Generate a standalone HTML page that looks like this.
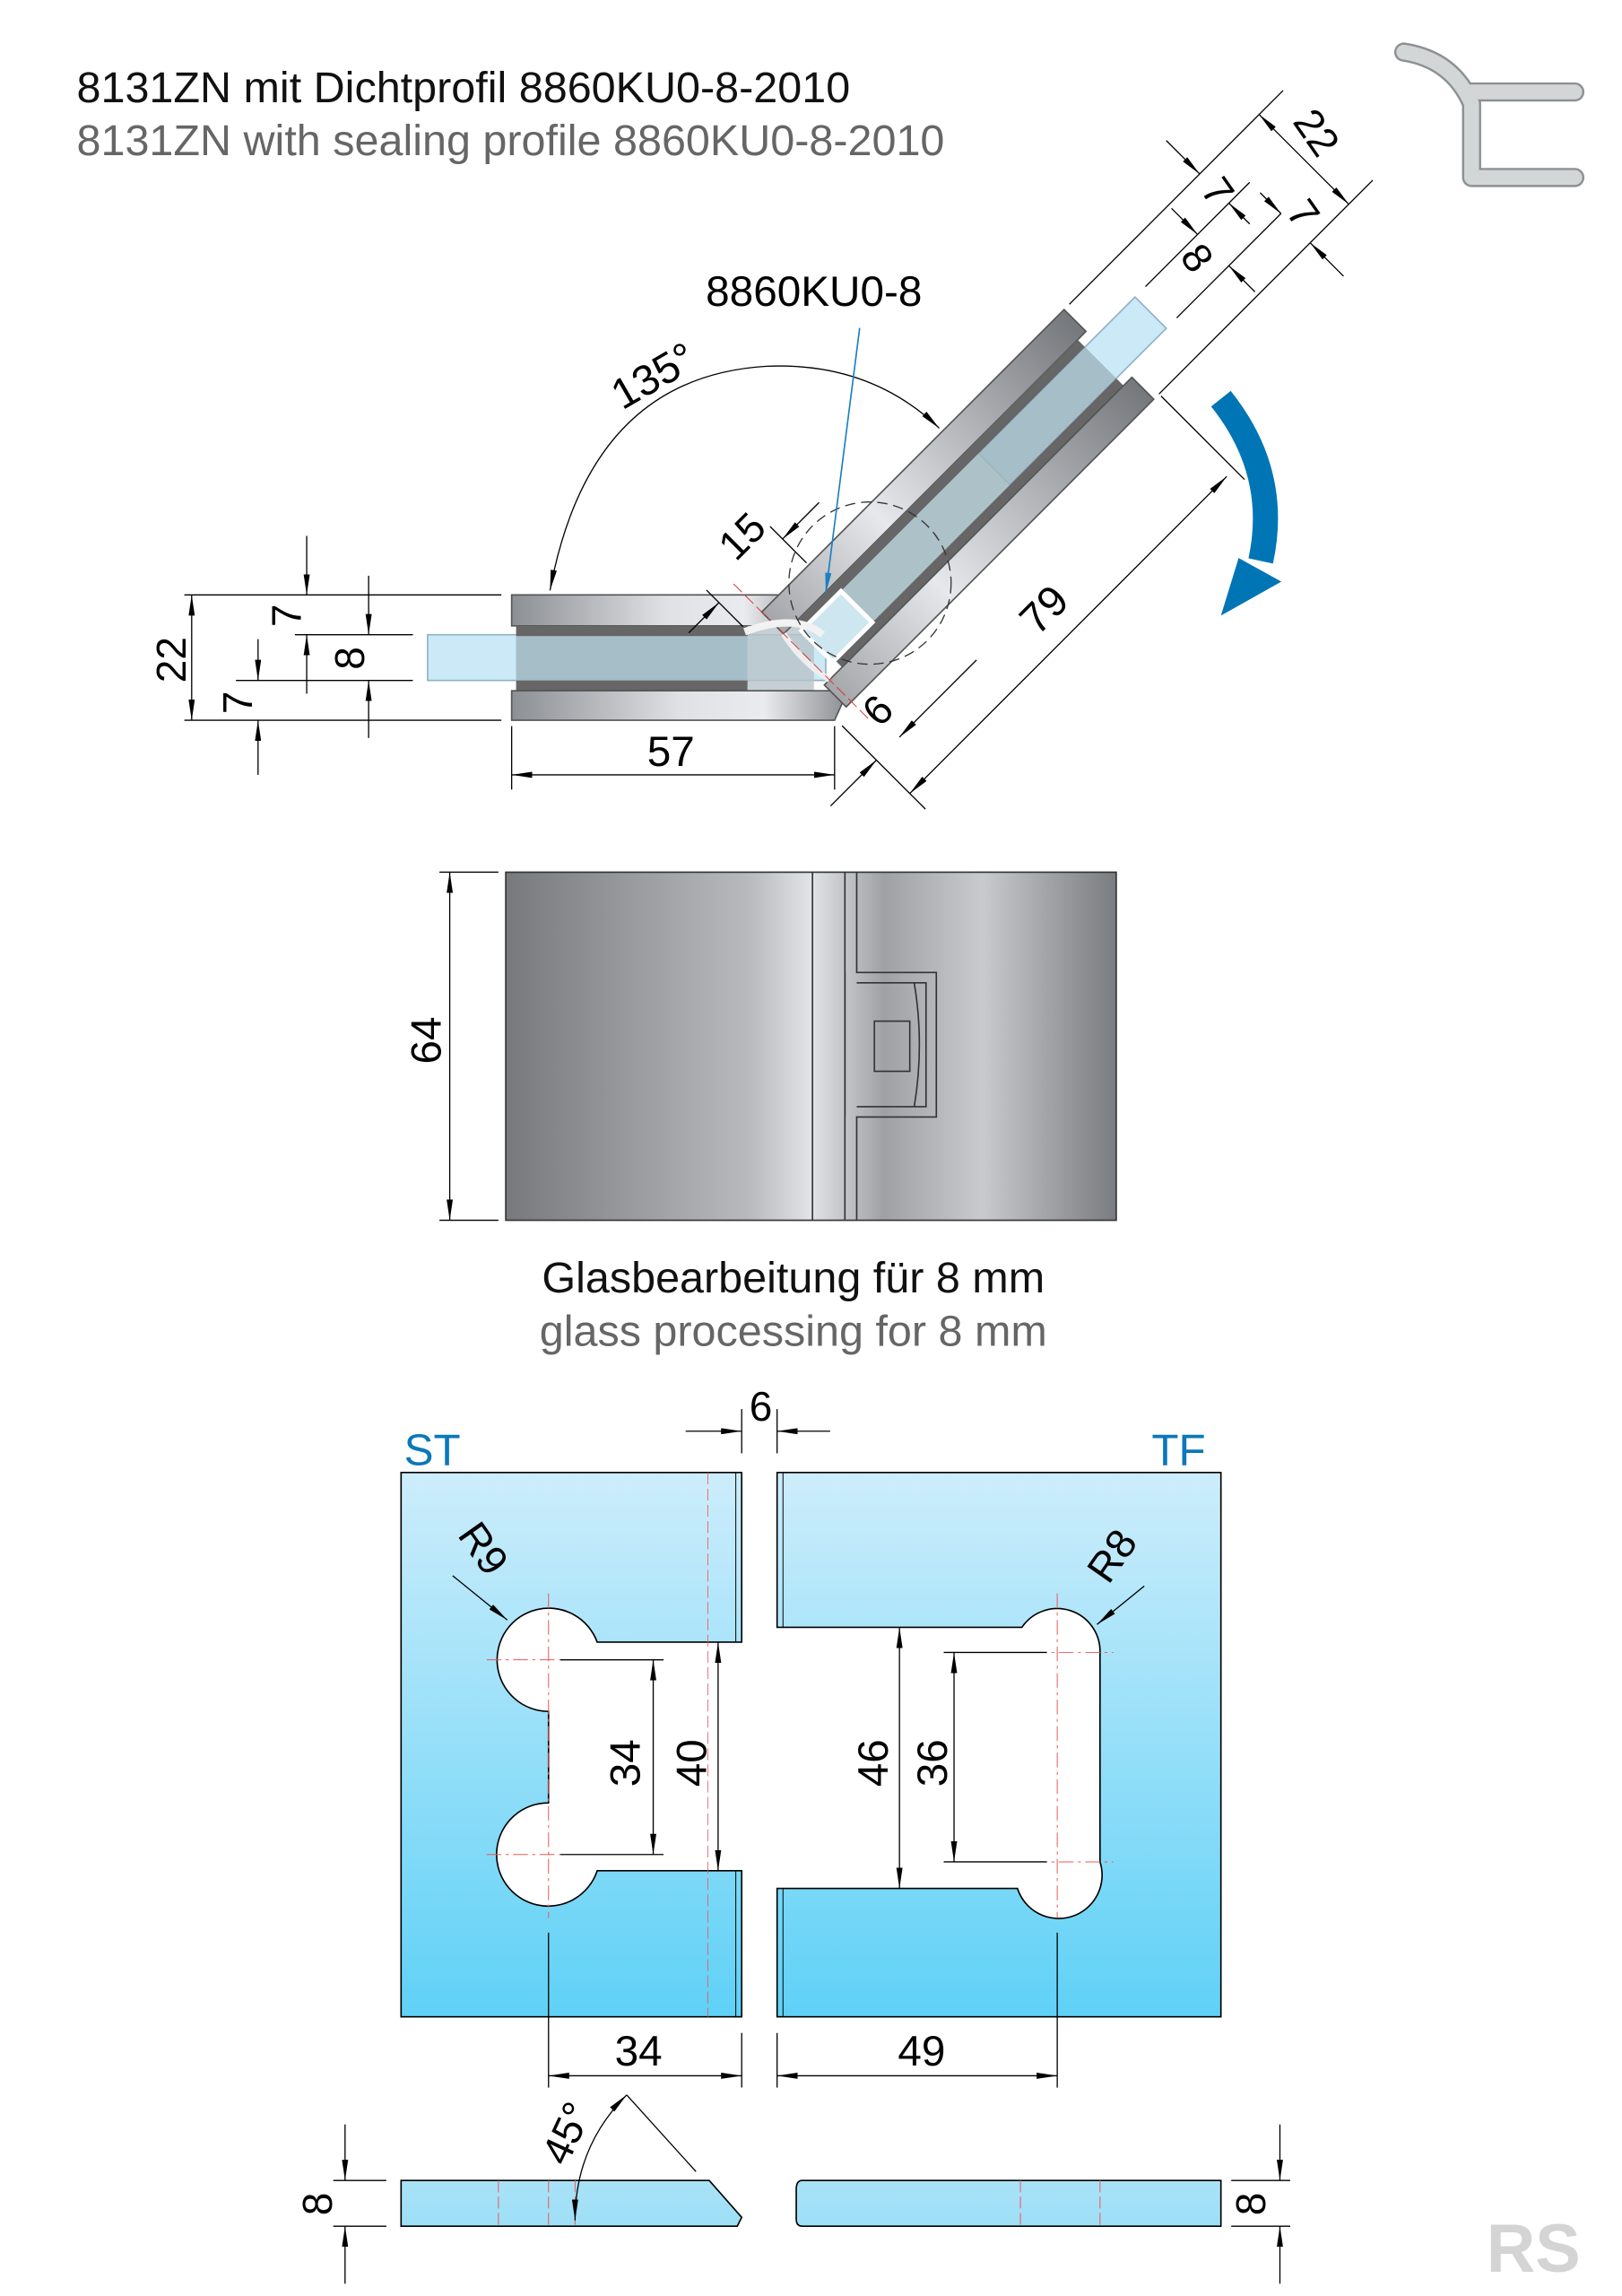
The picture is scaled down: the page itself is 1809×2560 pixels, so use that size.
<!DOCTYPE html>
<html><head><meta charset="utf-8"><style>
html,body{margin:0;padding:0;background:#fff;}
svg{display:block;}
text{font-family:"Liberation Sans",Arial,sans-serif;}
</style></head><body>
<svg width="1809" height="2560" viewBox="0 0 1100 1556" xmlns="http://www.w3.org/2000/svg">
<defs>
<marker id="a" viewBox="0 0 20 6" refX="20" refY="3" markerWidth="14" markerHeight="4.2" markerUnits="userSpaceOnUse" orient="auto-start-reverse"><path d="M0,0 L20,3 L0,6 z" fill="#000"/></marker>
<marker id="ab" viewBox="0 0 20 6" refX="20" refY="3" markerWidth="14" markerHeight="4.2" markerUnits="userSpaceOnUse" orient="auto"><path d="M0,0 L20,3 L0,6 z" fill="#1a7fc0"/></marker>
<linearGradient id="met" x1="0" y1="0" x2="1" y2="0">
<stop offset="0" stop-color="#8c8f93"/><stop offset="0.5" stop-color="#dfe1e5"/><stop offset="0.75" stop-color="#e9ebef"/><stop offset="1" stop-color="#8a8d91"/></linearGradient>
<linearGradient id="met2" x1="0" y1="0" x2="1" y2="0">
<stop offset="0" stop-color="#77797c"/><stop offset="0.4" stop-color="#b8babe"/><stop offset="0.5" stop-color="#e1e3e7"/><stop offset="0.62" stop-color="#9fa1a5"/><stop offset="0.78" stop-color="#c8cacd"/><stop offset="1" stop-color="#797c80"/></linearGradient>
<linearGradient id="met3" x1="0" y1="0" x2="1" y2="0">
<stop offset="0" stop-color="#a4a6aa"/><stop offset="0.35" stop-color="#e6e8ec"/><stop offset="1" stop-color="#74777b"/></linearGradient>
<linearGradient id="blu" x1="0" y1="0" x2="0" y2="1">
<stop offset="0" stop-color="#cdedfb"/><stop offset="1" stop-color="#5fd1f6"/></linearGradient>
<linearGradient id="blu2" x1="0" y1="0" x2="0" y2="1">
<stop offset="0" stop-color="#a9e2f7"/><stop offset="1" stop-color="#9edff7"/></linearGradient>
</defs>

<text x="52" y="69" font-size="29.5" fill="#111">8131ZN mit Dichtprofil 8860KU0-8-2010</text>
<text x="52" y="105" font-size="29.5" fill="#666">8131ZN with sealing profile 8860KU0-8-2010</text>

<g fill="none" stroke-linecap="round" stroke-linejoin="round">
<path d="M952,35 Q985,40 998,70 L998,120 L1068,120 M998,62 L1068,62" stroke="#8d9194" stroke-width="13"/>
<path d="M952,35 Q985,40 998,70 L998,120 L1068,120 M998,62 L1068,62" stroke="#d2d6d6" stroke-width="10"/>
</g>

<rect x="290" y="430" width="270" height="31" fill="#cbe9f6" stroke="#8fb3c4" stroke-width="1"/>
<rect x="347" y="403" width="210" height="21" fill="url(#met)" stroke="#555" stroke-width="1"/>
<rect x="350" y="424" width="157" height="7" fill="#666"/>
<rect x="350" y="461" width="157" height="7" fill="#666"/>
<rect x="350" y="431" width="157" height="30" fill="#9fb6c0" opacity="0.85"/>
<rect x="507" y="424" width="45" height="44" fill="#b8c3c8" opacity="0.8"/>
<path d="M347,468 L552,468 L575,468 L566,488 L347,488 Z" fill="url(#met)" stroke="#555" stroke-width="1"/>

<g transform="translate(547,445) rotate(-45)">
<rect x="180" y="-15" width="150" height="30" fill="#cbe9f6" stroke="#8fb3c4" stroke-width="1"/>
<rect x="0" y="-43" width="290" height="21" fill="url(#met3)" stroke="#555" stroke-width="1"/>
<rect x="12" y="-22" width="270" height="7" fill="#666"/>
<rect x="12" y="15" width="270" height="7" fill="#666"/>
<rect x="12" y="-15" width="270" height="30" fill="#9fb6c0" opacity="0.85"/>
<rect x="-5" y="22" width="295" height="21" fill="url(#met3)" stroke="#555" stroke-width="1"/>
<rect x="10" y="-15" width="38" height="30" fill="#cde6f0" stroke="#fff" stroke-width="3"/>
<path d="M0,-22 Q-5,0 0,22" fill="none" stroke="#eee" stroke-width="4"/>
<line x1="0" y1="-70" x2="0" y2="60" stroke="#d33" stroke-width="0.6" stroke-dasharray="8,3"/>
</g>
<path d="M505,428 Q540,415 558,430" fill="none" stroke="#f2f2f2" stroke-width="5"/>
<circle cx="590" cy="395" r="55" fill="none" stroke="#333" stroke-width="0.8" stroke-dasharray="7,4"/>

<g stroke="#000" stroke-width="0.8" fill="none">
<line x1="125" y1="403" x2="340" y2="403"/>
<line x1="125" y1="488" x2="340" y2="488"/>
<line x1="200" y1="430" x2="280" y2="430"/>
<line x1="160" y1="461" x2="280" y2="461"/>
<line x1="130" y1="403" x2="130" y2="488" marker-start="url(#a)" marker-end="url(#a)"/>
<line x1="208" y1="363" x2="208" y2="403" marker-end="url(#a)"/>
<line x1="208" y1="470" x2="208" y2="430" marker-end="url(#a)"/>
<line x1="250" y1="390" x2="250" y2="430" marker-end="url(#a)"/>
<line x1="250" y1="500" x2="250" y2="461" marker-end="url(#a)"/>
<line x1="175" y1="433" x2="175" y2="461" marker-end="url(#a)"/>
<line x1="175" y1="525" x2="175" y2="488" marker-end="url(#a)"/>
<line x1="347" y1="492" x2="347" y2="535"/>
<line x1="566" y1="492" x2="566" y2="535"/>
<line x1="347" y1="525" x2="566" y2="525" marker-start="url(#a)" marker-end="url(#a)"/>
</g>
<text transform="translate(126,447) rotate(-90)" font-size="28" text-anchor="middle">22</text>
<text transform="translate(204,417) rotate(-90)" font-size="28" text-anchor="middle">7</text>
<text transform="translate(247,446) rotate(-90)" font-size="28" text-anchor="middle">8</text>
<text transform="translate(171,476) rotate(-90)" font-size="28" text-anchor="middle">7</text>
<text x="455" y="519" font-size="29" text-anchor="middle">57</text>

<g transform="translate(547,445) rotate(-45)" stroke="#000" stroke-width="0.8" fill="none">
<line x1="295" y1="-43" x2="500" y2="-43"/>
<line x1="295" y1="43" x2="500" y2="43"/>
<line x1="340" y1="-15" x2="440" y2="-15"/>
<line x1="340" y1="15" x2="440" y2="15"/>
<line x1="477" y1="-43" x2="477" y2="43" marker-start="url(#a)" marker-end="url(#a)"/>
<line x1="420" y1="-75" x2="420" y2="-43" marker-end="url(#a)"/>
<line x1="420" y1="5" x2="420" y2="-15" marker-end="url(#a)"/>
<line x1="390" y1="-40" x2="390" y2="-15" marker-end="url(#a)"/>
<line x1="390" y1="40" x2="390" y2="15" marker-end="url(#a)"/>
<line x1="440" y1="-5" x2="440" y2="15" marker-end="url(#a)"/>
<line x1="440" y1="75" x2="440" y2="43" marker-end="url(#a)"/>
<line x1="295" y1="45" x2="295" y2="125"/>
<line x1="-16" y1="50" x2="-16" y2="130"/>
<line x1="-16" y1="115" x2="288" y2="115" marker-start="url(#a)" marker-end="url(#a)"/>
<line x1="-60" y1="83" x2="-16" y2="83" marker-end="url(#a)"/>
<line x1="80" y1="83" x2="6" y2="83" marker-end="url(#a)"/>
<line x1="-16" y1="-45" x2="-16" y2="-80"/>
<line x1="45" y1="-45" x2="45" y2="-80"/>
<line x1="-45" y1="-68" x2="-16" y2="-68" marker-end="url(#a)"/>
<line x1="80" y1="-68" x2="45" y2="-68" marker-end="url(#a)"/>
</g>
<text transform="translate(715,420) rotate(-45)" font-size="29" text-anchor="middle">79</text>
<text transform="translate(602,488) rotate(-45)" font-size="28" text-anchor="middle">6</text>
<text transform="translate(510,370) rotate(-45)" font-size="28" text-anchor="middle">15</text>
<text transform="translate(885,95) rotate(55)" font-size="28" text-anchor="middle">22</text>
<text transform="translate(818,135) rotate(55)" font-size="28" text-anchor="middle">7</text>
<text transform="translate(876,150) rotate(55)" font-size="28" text-anchor="middle">7</text>
<text transform="translate(804,180) rotate(55)" font-size="28" text-anchor="middle">8</text>

<path d="M637,290 Q590,245 520,248 Q400,255 373,400" fill="none" stroke="#000" stroke-width="0.8" marker-start="url(#a)" marker-end="url(#a)"/>
<text transform="translate(448,263) rotate(-30)" font-size="29" text-anchor="middle">135°</text>

<text x="552" y="207" font-size="29" text-anchor="middle">8860KU0-8</text>
<line x1="583" y1="222" x2="560" y2="402" stroke="#1a7fc0" stroke-width="1" marker-end="url(#ab)"/>

<path d="M828,270 Q868,320 855,380" fill="none" stroke="#0075b6" stroke-width="17"/>
<polygon points="828,417 869,394 840,378" fill="#0075b6"/>

<rect x="343" y="591" width="414" height="236" fill="url(#met2)" stroke="#333" stroke-width="1"/>
<line x1="551" y1="591" x2="551" y2="827" stroke="#333" stroke-width="1"/>
<line x1="573" y1="591" x2="573" y2="827" stroke="#333" stroke-width="1"/>
<path d="M581,591 L581,659 L635,659 L635,757 L581,757 L581,827" fill="none" stroke="#333" stroke-width="1"/>
<path d="M573,659 L573,757 M581,666 L628,666 L628,750 L581,750" fill="none" stroke="#333" stroke-width="1"/>
<rect x="593" y="692" width="24" height="34" fill="none" stroke="#333" stroke-width="1"/>
<path d="M620,666 Q627,708 620,750" fill="none" stroke="#333" stroke-width="1"/>
<g stroke="#000" stroke-width="0.8">
<line x1="298" y1="591" x2="338" y2="591"/>
<line x1="298" y1="827" x2="338" y2="827"/>
<line x1="305" y1="591" x2="305" y2="827" marker-start="url(#a)" marker-end="url(#a)"/>
</g>
<text transform="translate(299,705) rotate(-90)" font-size="29" text-anchor="middle">64</text>

<text x="538" y="876" font-size="29.5" text-anchor="middle" fill="#111">Glasbearbeitung für 8 mm</text>
<text x="538" y="912" font-size="29.5" text-anchor="middle" fill="#666">glass processing for 8 mm</text>

<text x="274" y="993" font-size="30" fill="#0a78b9">ST</text>
<text x="781" y="993" font-size="30" fill="#0a78b9">TF</text>
<text x="516" y="963" font-size="28" text-anchor="middle">6</text>
<g stroke="#000" stroke-width="0.8">
<line x1="465" y1="970" x2="503" y2="970" marker-end="url(#a)"/>
<line x1="563" y1="970" x2="527" y2="970" marker-end="url(#a)"/>
<line x1="503" y1="955" x2="503" y2="985"/>
<line x1="527" y1="955" x2="527" y2="985"/>
</g>

<path d="M272,998 L503,998 L503,1113 L405,1113 A35,35 0 1,0 372,1160 L372,1222 A35,35 0 1,0 405,1268 L503,1268 L503,1367 L272,1367 Z" fill="url(#blu)" stroke="#000" stroke-width="1"/>
<line x1="499" y1="998" x2="499" y2="1113" stroke="#000" stroke-width="0.6"/>
<line x1="499" y1="1268" x2="499" y2="1367" stroke="#000" stroke-width="0.6"/>
<line x1="480" y1="998" x2="480" y2="1367" stroke="#e55" stroke-width="0.5" stroke-dasharray="8,3"/>
<path d="M527,998 L828,998 L828,1367 L527,1367 L527,1280 L690,1280 A29,29 0 0,0 746,1262 L746,1120 A29,29 0 0,0 693,1103 L527,1103 Z" fill="url(#blu)" stroke="#000" stroke-width="1"/>
<line x1="531" y1="998" x2="531" y2="1103" stroke="#000" stroke-width="0.6"/>
<line x1="531" y1="1280" x2="531" y2="1367" stroke="#000" stroke-width="0.6"/>
<g stroke="#e55" stroke-width="0.6" stroke-dasharray="10,3,2,3">
<line x1="372" y1="1080" x2="372" y2="1300"/>
<line x1="330" y1="1125" x2="380" y2="1125"/>
<line x1="330" y1="1257" x2="380" y2="1257"/>
<line x1="717" y1="1080" x2="717" y2="1300"/>
<line x1="700" y1="1120" x2="755" y2="1120"/>
<line x1="700" y1="1262" x2="755" y2="1262"/>
</g>
<g stroke="#000" stroke-width="0.8">
<line x1="380" y1="1125" x2="450" y2="1125"/>
<line x1="380" y1="1257" x2="450" y2="1257"/>
<line x1="443" y1="1125" x2="443" y2="1257" marker-start="url(#a)" marker-end="url(#a)"/>
<line x1="487" y1="1113" x2="487" y2="1268" marker-start="url(#a)" marker-end="url(#a)"/>
<line x1="610" y1="1103" x2="610" y2="1280" marker-start="url(#a)" marker-end="url(#a)"/>
<line x1="640" y1="1120" x2="710" y2="1120"/>
<line x1="640" y1="1262" x2="710" y2="1262"/>
<line x1="647" y1="1120" x2="647" y2="1262" marker-start="url(#a)" marker-end="url(#a)"/>
<line x1="372" y1="1310" x2="372" y2="1415"/>
<line x1="503" y1="1378" x2="503" y2="1415"/>
<line x1="527" y1="1378" x2="527" y2="1415"/>
<line x1="717" y1="1310" x2="717" y2="1415"/>
<line x1="372" y1="1407" x2="503" y2="1407" marker-start="url(#a)" marker-end="url(#a)"/>
<line x1="527" y1="1407" x2="717" y2="1407" marker-start="url(#a)" marker-end="url(#a)"/>
<line x1="307" y1="1068" x2="344" y2="1098" marker-end="url(#a)"/>
<line x1="776" y1="1075" x2="744" y2="1101" marker-end="url(#a)"/>
</g>
<text transform="translate(434,1195) rotate(-90)" font-size="29" text-anchor="middle">34</text>
<text transform="translate(479,1195) rotate(-90)" font-size="29" text-anchor="middle">40</text>
<text transform="translate(602,1195) rotate(-90)" font-size="29" text-anchor="middle">46</text>
<text transform="translate(642,1195) rotate(-90)" font-size="29" text-anchor="middle">36</text>
<text x="433" y="1400" font-size="29" text-anchor="middle">34</text>
<text x="625" y="1400" font-size="29" text-anchor="middle">49</text>
<text transform="translate(320,1055) rotate(55)" font-size="28" text-anchor="middle">R9</text>
<text transform="translate(762,1060) rotate(-55)" font-size="28" text-anchor="middle">R8</text>

<path d="M272,1478 L481,1478 L503,1503 L500,1509 L272,1509 Z" fill="url(#blu2)" stroke="#000" stroke-width="1"/>
<path d="M544,1478 L828,1478 L828,1509 L544,1509 Q540,1509 540,1504 L540,1484 Q540,1478 544,1478 Z" fill="url(#blu2)" stroke="#000" stroke-width="1"/>
<g stroke="#e55" stroke-width="0.6" stroke-dasharray="8,3">
<line x1="338" y1="1478" x2="338" y2="1509"/>
<line x1="372" y1="1478" x2="372" y2="1509"/>
<line x1="390" y1="1478" x2="390" y2="1509"/>
<line x1="692" y1="1478" x2="692" y2="1509"/>
<line x1="746" y1="1478" x2="746" y2="1509"/>
</g>
<g stroke="#000" stroke-width="0.8" fill="none">
<line x1="472" y1="1472" x2="425" y2="1420"/>
<path d="M390,1505 Q390,1455 425,1420" marker-start="url(#a)" marker-end="url(#a)"/>
<line x1="226" y1="1478" x2="262" y2="1478"/>
<line x1="226" y1="1509" x2="262" y2="1509"/>
<line x1="234" y1="1440" x2="234" y2="1478" marker-end="url(#a)"/>
<line x1="234" y1="1548" x2="234" y2="1509" marker-end="url(#a)"/>
<line x1="835" y1="1478" x2="875" y2="1478"/>
<line x1="835" y1="1509" x2="875" y2="1509"/>
<line x1="868" y1="1440" x2="868" y2="1478" marker-end="url(#a)"/>
<line x1="868" y1="1548" x2="868" y2="1509" marker-end="url(#a)"/>
</g>
<text transform="translate(393,1450) rotate(-65)" font-size="28" text-anchor="middle">45°</text>
<text transform="translate(225,1494) rotate(-90)" font-size="28" text-anchor="middle">8</text>
<text transform="translate(858,1494) rotate(-90)" font-size="28" text-anchor="middle">8</text>

<text x="1008" y="1540" font-size="46" font-weight="bold" fill="#d4d4d4">RS</text>
</svg>
</body></html>
